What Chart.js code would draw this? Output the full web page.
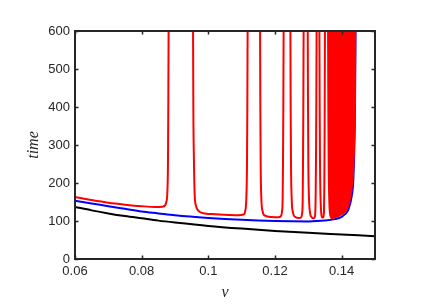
<!DOCTYPE html>
<html>
<head>
<meta charset="utf-8">
<script src="https://cdn.jsdelivr.net/npm/chart.js@4"></script>
<style>
html,body{margin:0;padding:0;background:#fff;}
#wrap{width:436px;height:308px;position:relative;}
</style>
</head>
<body>
<div id="wrap"><canvas id="c"></canvas></div>
<script>
// ---- data ----
const blackV = [0.06, 0.065, 0.07, 0.075, 0.08, 0.085, 0.09, 0.10, 0.11, 0.12, 0.13, 0.14, 0.15];
const blackT = [137, 128, 120, 113, 107, 101, 96, 87, 80, 74, 69, 64.5, 60];

const blueV = [0.06, 0.065, 0.07, 0.075, 0.08, 0.085, 0.09, 0.10, 0.11, 0.12, 0.13, 0.135, 0.138, 0.14, 0.141, 0.142, 0.143, 0.1435, 0.1438, 0.1440, 0.1442];
const blueT = [153, 146, 139, 132, 125, 120, 115, 108, 103, 100, 99, 101, 105, 111, 118, 130, 165, 209, 297, 394, 650];

// red branches, separated by null (curve leaves the plot between them)
const redV = [
  0.06, 0.065, 0.07, 0.075, 0.08, 0.084, 0.0862, 0.0870, 0.0874, 0.0877, 0.0879, 0.0880, 0.0881, null,
  0.0954, 0.0955, 0.0957, 0.0959, 0.0963, 0.097, 0.099, 0.102, 0.106, 0.109, 0.1105, 0.1111, 0.1114, 0.1116, 0.1117, 0.1118, null,
  0.1155, 0.1156, 0.1157, 0.1159, 0.1163, 0.117, 0.119, 0.121, 0.1218, 0.1221, 0.1223, 0.1224, 0.1225, 0.1226, null,
  0.1246, 0.1247, 0.1248, 0.1250, 0.1254, 0.1260, 0.1270, 0.1278, 0.1281, 0.1283, 0.1284, 0.1285, 0.1286, null,
  0.1298, 0.1299, 0.1300, 0.1302, 0.1305, 0.1310, 0.1316, 0.1319, 0.1321, 0.1322, 0.1323, 0.1324, 0.1325, null,
  0.1333, 0.1334, 0.1335, 0.1337, 0.1339, 0.1342, 0.1345, 0.1347, 0.1348, 0.1349, 0.1350
];
const redT = [
  163, 155, 148, 143, 139, 137, 137.5, 141, 150, 175, 260, 420, 650, null,
  650, 400, 250, 170, 140, 127, 120, 118, 116, 115, 117, 128, 160, 250, 400, 650, null,
  650, 400, 250, 160, 125, 114, 110.5, 110, 113, 125, 160, 250, 400, 650, null,
  650, 400, 250, 160, 122, 111, 108, 109, 118, 150, 250, 400, 650, null,
  650, 400, 250, 160, 122, 110, 107, 110, 125, 170, 260, 420, 650, null,
  650, 400, 250, 150, 118, 109, 110, 125, 200, 350, 650
];

// densely oscillating part of the red curve: lower envelope, filled to the top
const redDenseV = [0.1359, 0.1360, 0.1361, 0.1363, 0.1366, 0.137, 0.138, 0.139, 0.140, 0.141, 0.1418, 0.1425, 0.1431, 0.1435, 0.1438, 0.1440, 0.1441];
const redDenseT = [650, 400, 250, 150, 115, 108, 110, 113, 118, 125, 137, 160, 195, 240, 320, 430, 650];

const xTickValues = [0.06, 0.08, 0.10, 0.12, 0.14];
const xTickLabels = ['0.06', '0.08', '0.1', '0.12', '0.14'];
const yTickValues = [0, 100, 200, 300, 400, 500, 600];

const toPts = (vs, ts) => vs.map((v, i) => (v === null ? {x: NaN, y: null} : {x: v, y: ts[i]}));

const AX = '#262626';
const boxPlugin = {
  id: 'box',
  afterDatasetsDraw(chart) {
    const {ctx, chartArea: {left, right, top, bottom}, scales: {x, y}} = chart;
    ctx.save();
    ctx.strokeStyle = AX;
    ctx.lineWidth = 1.5;
    ctx.beginPath();
    const tl = 3.5;
    xTickValues.forEach(v => {
      const px = Math.round(x.getPixelForValue(v)) + 0.5;
      ctx.moveTo(px, bottom); ctx.lineTo(px, bottom - tl);
      ctx.moveTo(px, top); ctx.lineTo(px, top + tl);
    });
    yTickValues.forEach(v => {
      const py = Math.round(y.getPixelForValue(v)) + 0.5;
      ctx.moveTo(left, py); ctx.lineTo(left + tl, py);
      ctx.moveTo(right, py); ctx.lineTo(right - tl, py);
    });
    ctx.stroke();
    ctx.lineWidth = 2;
    ctx.strokeRect(left, top, right - left, bottom - top);
    ctx.restore();
  }
};

const lineDs = (label, data, color, order) => ({
  label, data, borderColor: color, backgroundColor: color, borderWidth: 2,
  pointRadius: 0, showLine: true, cubicInterpolationMode: 'monotone', spanGaps: false, order, fill: false
});

new Chart(document.getElementById('c'), {
  type: 'scatter',
  data: {
    datasets: [
      Object.assign(lineDs('red dense', toPts(redDenseV, redDenseT), '#ff0000', 0), {fill: 'end', backgroundColor: '#ff0000'}),
      lineDs('red', toPts(redV, redT), '#ff0000', 1),
      lineDs('blue', toPts(blueV, blueT), '#0000ff', 2),
      lineDs('black', toPts(blackV, blackT), '#000000', 3)
    ]
  },
  options: {
    responsive: true,
    maintainAspectRatio: false,
    animation: false,
    events: [],
    layout: {padding: {top: 31, right: 61, bottom: 0, left: 0}},
    plugins: {legend: {display: false}, tooltip: {enabled: false}},
    scales: {
      x: {
        type: 'linear', min: 0.06, max: 0.15,
        afterFit: s => { s.height = 49; },
        afterBuildTicks: s => { s.ticks = xTickValues.map(v => ({value: v})); },
        grid: {display: false, drawTicks: false},
        border: {display: false},
        ticks: {
          autoSkip: false, maxRotation: 0, padding: 5, color: AX,
          font: {family: 'Liberation Sans', size: 13},
          callback: (val, i) => xTickLabels[i]
        },
        title: {display: true, text: 'v', color: AX, padding: {top: 0, bottom: 6},
          font: {family: 'Liberation Serif', style: 'italic', size: 16}}
      },
      y: {
        type: 'linear', min: 0, max: 600,
        afterFit: s => { s.width = 75; },
        afterBuildTicks: s => { s.ticks = yTickValues.map(v => ({value: v})); },
        grid: {display: false, drawTicks: false},
        border: {display: false},
        ticks: {padding: 5, color: AX, font: {family: 'Liberation Sans', size: 13}},
        title: {display: true, text: 'time', color: AX, padding: {top: 24, bottom: 0},
          font: {family: 'Liberation Serif', style: 'italic', size: 16}}
      }
    }
  },
  plugins: [boxPlugin]
});
</script>
</body>
</html>
